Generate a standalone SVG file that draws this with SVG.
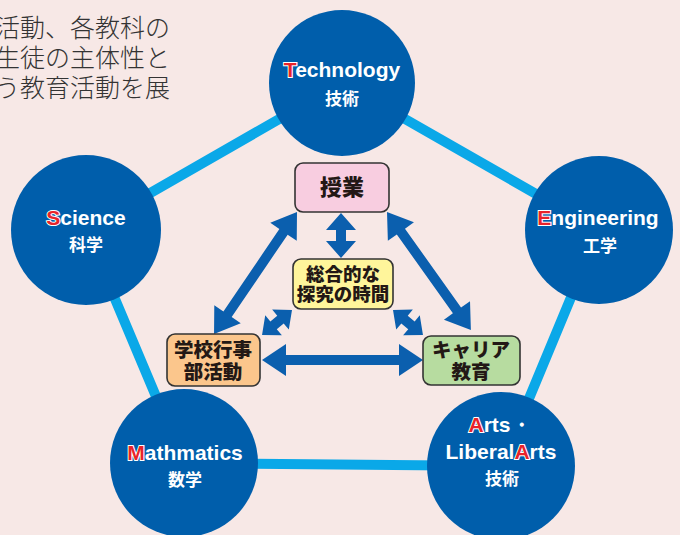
<svg xmlns="http://www.w3.org/2000/svg" width="680" height="535" viewBox="0 0 680 535">
<style>
.bg{fill:#f7e8e6}
.edge{stroke:#0aa8e8;stroke-width:10;fill:none}
.arrow{fill:#0b5fae}
.circ{fill:#005eab}
.en{font-family:"Liberation Sans",Arial,sans-serif;font-weight:bold;font-size:21px;fill:#fff;text-anchor:middle}
.ja{font-family:"Noto Sans CJK JP",sans-serif;font-weight:bold;font-size:17px;fill:#fff;text-anchor:middle}
.red{fill:#e8232a;stroke:#fff;stroke-width:2;paint-order:stroke}
.box{stroke:#333;stroke-width:1.6}
.bt{font-family:"Noto Sans CJK JP",sans-serif;font-weight:900;font-size:18.5px;fill:#231815;text-anchor:middle}
.para{font-family:"Noto Sans CJK JP",sans-serif;font-weight:300;font-size:25px;fill:#333;text-anchor:end}
</style>
<rect class="bg" x="0" y="0" width="680" height="535"/>
<g id="intro-text">
<text class="para" x="170" y="37">活動、各教科の</text>
<text class="para" x="170" y="67">生徒の主体性と</text>
<text class="para" x="170" y="97">う教育活動を展</text>
</g>
<g id="connectors">
<polyline class="edge" points="342,83 599,230 501,466 184,463 86,230 342,83"/>
<g transform="translate(341,213) rotate(90)"><polygon class="arrow" points="0,0 17,-15 17,-5 28,-5 28,-15 45,0 28,15 28,5 17,5 17,15"/></g>
<g transform="translate(297,212) rotate(124.2)"><polygon class="arrow" points="0,0 24,-16 24,-5 123.6,-5 123.6,-16 147.6,0 123.6,16 123.6,5 24,5 24,16"/></g>
<g transform="translate(387,212) rotate(54.6)"><polygon class="arrow" points="0,0 24,-16 24,-5 120.8,-5 120.8,-16 144.8,0 120.8,16 120.8,5 24,5 24,16"/></g>
<g transform="translate(292,310) rotate(140.2)"><polygon class="arrow" points="0,0 15,-13 15,-5 24,-5 24,-13 39,0 24,13 24,5 15,5 15,13"/></g>
<g transform="translate(393,310) rotate(39.8)"><polygon class="arrow" points="0,0 15,-13 15,-5 24,-5 24,-13 39,0 24,13 24,5 15,5 15,13"/></g>
<g transform="translate(262,360)"><polygon class="arrow" points="0,0 24,-16 24,-5 137,-5 137,-16 161,0 137,16 137,5 24,5 24,16"/></g>
</g>
<g id="technology">
<circle class="circ" cx="342" cy="83" r="73"/>
<text class="en" x="342" y="77"><tspan class="red">T</tspan>echnology</text>
<text class="ja" x="342" y="105">技術</text>
</g>
<g id="science">
<circle class="circ" cx="86" cy="230" r="75"/>
<text class="en" x="86" y="225"><tspan class="red">S</tspan>cience</text>
<text class="ja" x="86" y="251">科学</text>
</g>
<g id="engineering">
<circle class="circ" cx="599" cy="230" r="74"/>
<text class="en" x="598" y="225"><tspan class="red">E</tspan>ngineering</text>
<text class="ja" x="600" y="252">工学</text>
</g>
<g id="mathmatics">
<circle class="circ" cx="184" cy="463" r="74"/>
<text class="en" x="185" y="460"><tspan class="red">M</tspan>athmatics</text>
<text class="ja" x="185" y="486">数学</text>
</g>
<g id="arts">
<circle class="circ" cx="501" cy="466" r="74"/>
<text class="en" x="500" y="432"><tspan class="red">A</tspan>rts・</text>
<text class="en" x="501" y="459">Liberal<tspan class="red">A</tspan>rts</text>
<text class="ja" x="502" y="485">技術</text>
</g>
<g id="jugyo">
<rect class="box" x="295" y="163" width="94" height="49" rx="8" fill="#f8cde0"/>
<text class="bt" x="342" y="195" style="font-size:22px">授業</text>
</g>
<g id="sogo">
<rect class="box" x="293" y="259" width="100" height="50" rx="8" fill="#fff59b"/>
<text class="bt" x="343" y="281">総合的な</text>
<text class="bt" x="343" y="301">探究の時間</text>
</g>
<g id="gakko">
<rect class="box" x="167" y="334" width="93" height="52" rx="8" fill="#fbc68c"/>
<text class="bt" x="213" y="357" style="font-size:19.5px">学校行事</text>
<text class="bt" x="213" y="379" style="font-size:19.5px">部活動</text>
</g>
<g id="career">
<rect class="box" x="423" y="336" width="97" height="49" rx="8" fill="#b7dca0"/>
<text class="bt" x="471" y="357" style="font-size:19.5px">キャリア</text>
<text class="bt" x="471" y="379" style="font-size:19.5px">教育</text>
</g>
</svg>
